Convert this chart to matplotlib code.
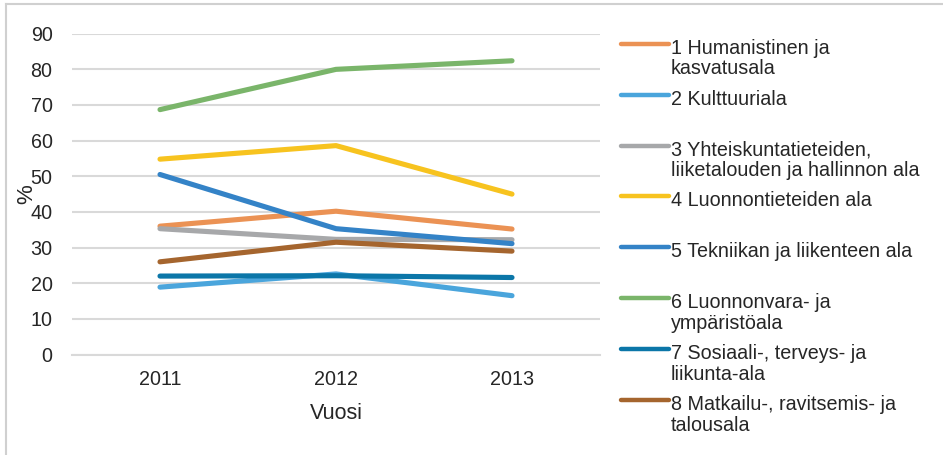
import matplotlib.pyplot as plt
from matplotlib.lines import Line2D

plt.rcParams['font.family'] = ['Liberation Sans', 'DejaVu Sans']

# Data
vuodet = ["2011", "2012", "2013"]
nimet = [
    "1 Humanistinen ja\nkasvatusala",
    "2 Kulttuuriala",
    "3 Yhteiskuntatieteiden,\nliiketalouden ja hallinnon ala",
    "4 Luonnontieteiden ala",
    "5 Tekniikan ja liikenteen ala",
    "6 Luonnonvara- ja\nympäristöala",
    "7 Sosiaali-, terveys- ja\nliikunta-ala",
    "8 Matkailu-, ravitsemis- ja\ntalousala",
]
humanistinen = [36.0, 40.2, 35.2]
kulttuuri = [18.9, 22.6, 16.5]
yhteiskunta = [35.3, 32.3, 32.2]
luonnontiede = [54.8, 58.6, 45.0]
tekniikka = [50.5, 35.3, 31.1]
luonnonvara = [68.7, 80.0, 82.4]
sosiaali = [22.0, 22.1, 21.6]
matkailu = [26.0, 31.5, 29.0]
sarjat = [humanistinen, kulttuuri, yhteiskunta, luonnontiede,
          tekniikka, luonnonvara, sosiaali, matkailu]
varit = ["#EB9254", "#4AA5DC", "#A7A8AA", "#F7C31F",
         "#3483C7", "#7AB56A", "#0B76A8", "#A5652E"]

fig = plt.figure(figsize=(9.43, 4.55), dpi=100)
ax = fig.add_axes([72 / 943, 1 - 354.5 / 455, 528 / 943, 320.8 / 455])

x = list(range(len(vuodet)))
for arvot, vari in zip(sarjat, varit):
    ax.plot(x, arvot, color=vari, lw=3.7, solid_capstyle="round",
            solid_joinstyle="round")

ax.set_xlim(-0.5, 2.5)
ax.set_ylim(0, 90)
ax.set_yticks(range(0, 91, 10))
ax.set_xticks(x)
ax.set_xticklabels(vuodet)
ax.grid(axis="y", color="#D9D9D9", lw=1.5)
ax.set_axisbelow(True)
for s in ["top", "right", "left"]:
    ax.spines[s].set_visible(False)
ax.spines["bottom"].set_color("#D9D9D9")
ax.spines["bottom"].set_linewidth(1.5)
ax.tick_params(axis="both", length=0, labelsize=14.2, colors="#262626")
ax.tick_params(axis="y", pad=14)
ax.tick_params(axis="x", pad=11)
ax.set_xlabel("Vuosi", fontsize=15.5, color="#262626", labelpad=10)
ax.set_ylabel("%", fontsize=16, color="#262626")
ax.yaxis.set_label_coords(-0.066, 0.5)

# Legend drawn by hand (Excel style, fixed row height)
W, H = 943, 455
for i, (nimi, vari) in enumerate(zip(nimet, varit)):
    yy = 43.7 + i * 50.9
    fig.add_artist(Line2D([621 / W, 669 / W], [1 - yy / H, 1 - yy / H],
                          color=vari, lw=3.2, solid_capstyle="round"))
    fig.text(671 / W, 1 - (yy - 5) / H, nimi, fontsize=14.2, color="#262626",
             va="top", ha="left", linespacing=1.12)

# outer chart border (top and left edges visible)
fig.add_artist(Line2D([6 / W, 1.0], [1 - 4 / H, 1 - 4 / H], color="#D0D0D0", lw=1.5))
fig.add_artist(Line2D([6 / W, 6 / W], [0, 1 - 4 / H], color="#D0D0D0", lw=1.5))

fig.savefig("out.png", dpi=100)
